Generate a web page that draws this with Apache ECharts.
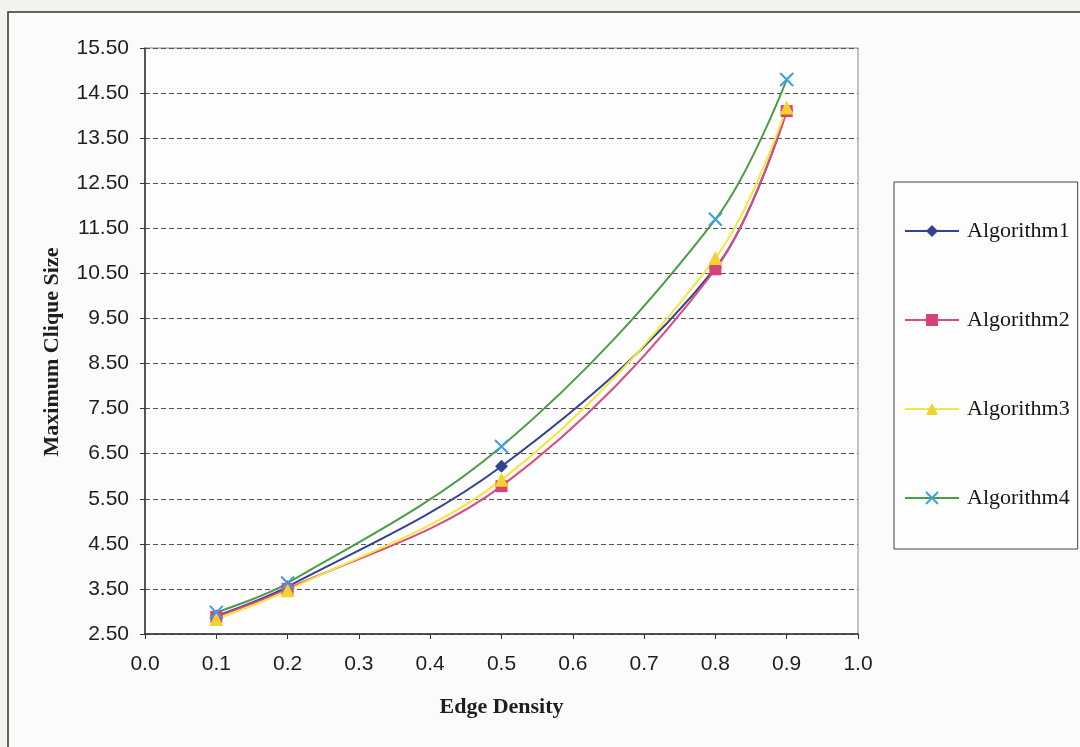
<!DOCTYPE html>
<html>
<head>
<meta charset="utf-8">
<script src="https://cdn.jsdelivr.net/npm/echarts@6/dist/echarts.min.js"></script>
<style>
  html, body { margin: 0; padding: 0; background: #f3f2ee; }
  #chart { width: 1080px; height: 747px; }
</style>
</head>
<body>
<div id="chart"></div>
<script>
// Edge density on x, maximum clique size found by each algorithm on y
const densities = [0.1, 0.2, 0.5, 0.8, 0.9];
const algorithm1 = [2.90, 3.55, 6.22, 10.62, 14.12];
const algorithm2 = [2.88, 3.50, 5.78, 10.59, 14.10];
const algorithm3 = [2.83, 3.47, 5.92, 10.84, 14.18];
const algorithm4 = [2.98, 3.63, 6.66, 11.70, 14.80];
const seriesNames = ['Algorithm1', 'Algorithm2', 'Algorithm3', 'Algorithm4'];
const yTicks = [2.5, 3.5, 4.5, 5.5, 6.5, 7.5, 8.5, 9.5, 10.5, 11.5, 12.5, 13.5, 14.5, 15.5];

const pair = vals => densities.map((d, i) => [d, vals[i]]);
const crossPath = 'path://M0,0L10,10M10,0L0,10';

const chart = echarts.init(document.getElementById('chart'), null, { renderer: 'canvas' });

const lineSeries = (name, vals, lineColor, symbol, symbolSize, markColor, stroke) => ({
  name: name,
  type: 'line',
  data: pair(vals),
  smooth: 0.35,
  symbol: symbol,
  symbolSize: symbolSize,
  showSymbol: true,
  lineStyle: { color: lineColor, width: 2 },
  itemStyle: stroke
    ? { color: 'rgba(0,0,0,0)', borderColor: markColor, borderWidth: 2 }
    : { color: markColor, borderWidth: 0 },
  emphasis: { disabled: true },
  z: 3
});

chart.setOption({
  animation: false,
  backgroundColor: 'transparent',
  graphic: [
    {
      type: 'rect',
      shape: { x: 8, y: 12, width: 1080, height: 760 },
      style: { fill: '#fbfbf9', stroke: '#333', lineWidth: 1.5 },
      z: -10, silent: true
    }
  ],
  grid: {
    left: 145, top: 48, right: 222, bottom: 113,
    show: true,
    backgroundColor: '#fefefe',
    borderColor: '#8a8a8a',
    borderWidth: 1
  },
  legend: {
    orient: 'vertical',
    left: 894,
    top: 182,
    padding: [38, 8, 40, 10],
    itemGap: 67,
    itemWidth: 54,
    itemHeight: 15,
    backgroundColor: '#fdfdfc',
    borderColor: '#444',
    borderWidth: 1,
    borderRadius: 0,
    textStyle: {
      fontFamily: 'Liberation Serif, Times New Roman, serif',
      fontSize: 22,
      color: '#161616',
      padding: [0, 0, 0, 3]
    },
    data: seriesNames
  },
  xAxis: {
    type: 'value',
    min: 0,
    max: 1,
    interval: 0.1,
    name: 'Edge Density',
    nameLocation: 'middle',
    nameGap: 62,
    nameTextStyle: {
      fontFamily: 'Liberation Serif, Times New Roman, serif',
      fontWeight: 'bold',
      fontSize: 22,
      color: '#1e1e1e'
    },
    axisLine: { show: true, onZero: false, lineStyle: { color: '#333', width: 1.5 } },
    axisTick: { show: true, inside: false, length: 5, lineStyle: { color: '#333' } },
    axisLabel: {
      fontFamily: 'Liberation Sans, Arial, sans-serif',
      fontSize: 21,
      color: '#1e1e1e',
      margin: 20,
      formatter: v => v.toFixed(1)
    },
    splitLine: { show: false }
  },
  yAxis: {
    type: 'value',
    min: yTicks[0],
    max: yTicks[yTicks.length - 1],
    interval: 1,
    name: 'Maximum Clique Size',
    nameLocation: 'middle',
    nameGap: 82,
    nameTextStyle: {
      fontFamily: 'Liberation Serif, Times New Roman, serif',
      fontWeight: 'bold',
      fontSize: 22,
      color: '#1e1e1e',
      padding: [0, 22, 0, 0]
    },
    axisLine: { show: true, onZero: false, lineStyle: { color: '#333', width: 1.5 } },
    axisTick: { show: true, inside: false, length: 5, lineStyle: { color: '#333' } },
    axisLabel: {
      fontFamily: 'Liberation Sans, Arial, sans-serif',
      fontSize: 21,
      color: '#1e1e1e',
      margin: 16,
      formatter: v => v.toFixed(2)
    },
    splitLine: {
      show: true,
      lineStyle: { color: '#555', type: [5, 3], width: 1 }
    }
  },
  series: [
    lineSeries(seriesNames[0], algorithm1, '#34428f', 'diamond', 13, '#34428f', false),
    lineSeries(seriesNames[1], algorithm2, '#dc4a80', 'rect', 12, '#d4437b', false),
    lineSeries(seriesNames[2], algorithm3, '#f6e640', 'triangle', 14, '#f3d22e', false),
    lineSeries(seriesNames[3], algorithm4, '#4c9b46', crossPath, 13, '#3c9fe0', true)
  ]
});
</script>
</body>
</html>
